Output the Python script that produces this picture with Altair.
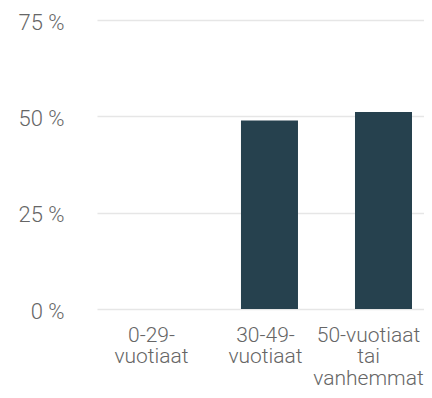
import altair as alt
import pandas as pd

categories = ["0-29-\nvuotiaat", "30-49-\nvuotiaat", "50-vuotiaat\ntai\nvanhemmat"]
values = [0.0, 48.9, 51.1]
y_ticks = [0, 25, 50, 75]

df = pd.DataFrame({"cat": categories, "val": values})

FONT = "Roboto"

chart = alt.Chart(df).mark_bar(color="#26414e").encode(
    x=alt.X(
        "cat:N",
        sort=categories,
        title=None,
        scale=alt.Scale(paddingInner=0.5, paddingOuter=0.184, align=0.714, round=False),
        axis=alt.Axis(
            labelAngle=0,
            labelExpr="split(datum.label, '\\n')",
            labelLineHeight=21.5,
            labelBaseline="top",
            labelPadding=15,
            labelOffset={"condition": {"test": "indexof(datum.value, '50') == 0", "value": -15}, "value": -4},
            labelFontSize=21,
            labelFont=FONT,
            labelFontWeight=300,
            labelColor="#666666",
            labelLimit=0,
            labelOverlap=False,
            ticks=False,
            domain=False,
            grid=False,
        ),
    ),
    y=alt.Y(
        "val:Q",
        title=None,
        scale=alt.Scale(domain=[0, 75], nice=False, zero=True),
        axis=alt.Axis(
            values=y_ticks,
            labelExpr="datum.value + ' %'",
            labelFontSize=22,
            labelFont=FONT,
            labelFontWeight=300,
            labelColor="#666666",
            labelPadding=33,
            labelOffset=2,
            ticks=False,
            domain=False,
            grid=True,
            gridColor="#e6e6e6",
            gridWidth=1.5,
        ),
    ),
).properties(
    width=327,
    height=289,
    padding={"left": 89, "top": 12, "right": 0, "bottom": 81},
    autosize=alt.AutoSizeParams(type="none"),
).configure_view(stroke=None)

chart.save("out.html", embed_options={"renderer": "svg", "actions": False})
